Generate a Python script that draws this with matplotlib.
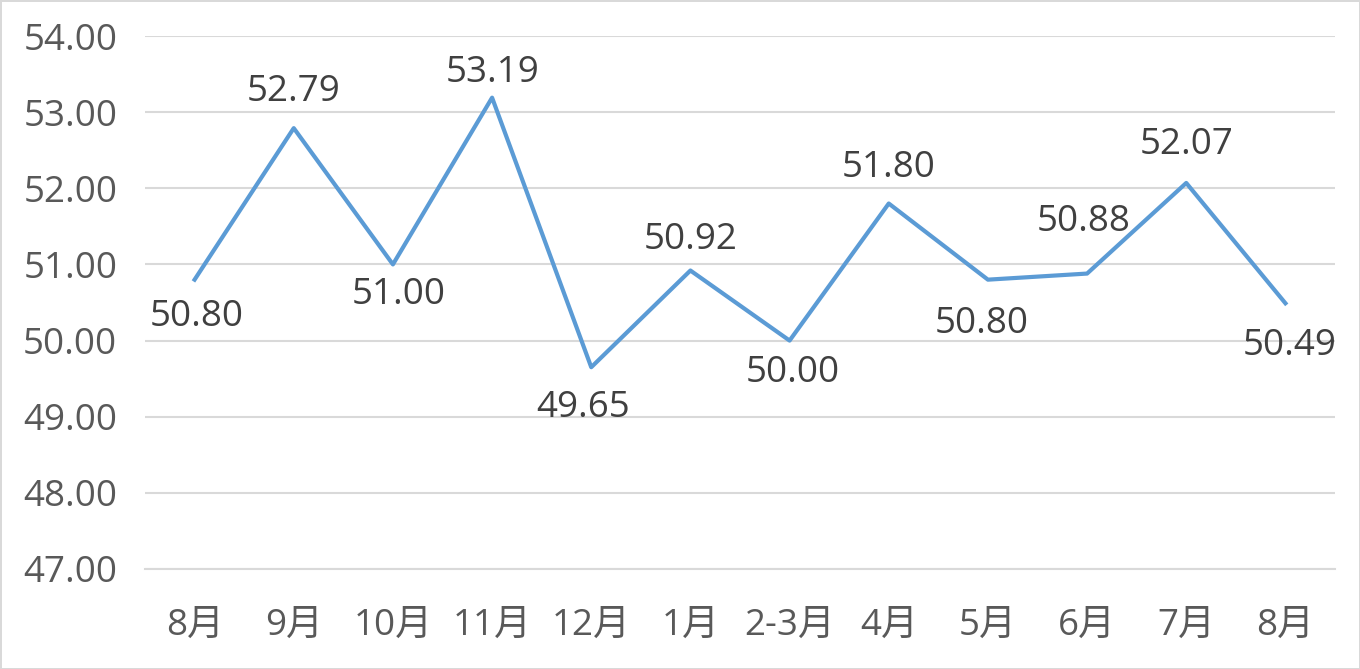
import numpy as np
import matplotlib as mpl
import matplotlib.pyplot as plt

months = ['8月', '9月', '10月', '11月', '12月', '1月', '2-3月', '4月', '5月', '6月', '7月', '8月']
values = [50.80, 52.79, 51.00, 53.19, 49.65, 50.92, 50.00, 51.80, 50.80, 50.88, 52.07, 50.49]
yticks = [47, 48, 49, 50, 51, 52, 53, 54]

# label offsets from the point, in pixels (dx, dy up positive)
label_dx = [2, 0, 6, 0, -8, 0, 3, 0, -6, -3, 0, 4]
label_dy = [-37, 36, -31, 25, -41, 31, -32, 36, -44, 52, 38, -43]

plt.rcParams['font.family'] = ['Open Sans', 'Noto Sans CJK SC', 'DejaVu Sans']


def main():
    fig = plt.figure(figsize=(13.6, 6.69), dpi=100)
    fig.patch.set_edgecolor('#d9d9d9')
    fig.patch.set_linewidth(2)
    ax = fig.add_axes([145 / 1360, 1 - 569 / 669, 1190 / 1360, 533 / 669])

    x = np.arange(len(values))
    ax.plot(x, values, color='#5b9bd5', linewidth=3, solid_joinstyle='round', zorder=3)

    px = 72 / fig.dpi
    for xi, v, dx, dy in zip(x, values, label_dx, label_dy):
        ax.annotate(f'{v:.2f}', (xi, v), xytext=(dx * px, dy * px), textcoords='offset points',
                    ha='center', va='center', fontsize=26.5, color='#404040', zorder=4)

    ax.set_xlim(-0.5, len(values) - 0.5)
    ax.set_ylim(47, 54)
    ax.set_yticks(yticks)
    ax.set_yticklabels([f'{t:.2f}' for t in yticks])
    ax.set_xticks(x)
    ax.set_xticklabels(months)
    ax.tick_params(axis='both', length=0, labelsize=26.5, labelcolor='#595959')
    ax.tick_params(axis='y', pad=20)
    ax.tick_params(axis='x', pad=28)
    ax.grid(axis='y', color='#d9d9d9', linewidth=1.5)
    ax.set_axisbelow(True)
    for s in ['top', 'right', 'left']:
        ax.spines[s].set_visible(False)
    ax.spines['bottom'].set_color('#d9d9d9')
    ax.spines['bottom'].set_linewidth(1.5)

    fig.savefig('out.png', dpi=100, edgecolor=fig.get_edgecolor())


if __name__ == "__main__":
    main()
